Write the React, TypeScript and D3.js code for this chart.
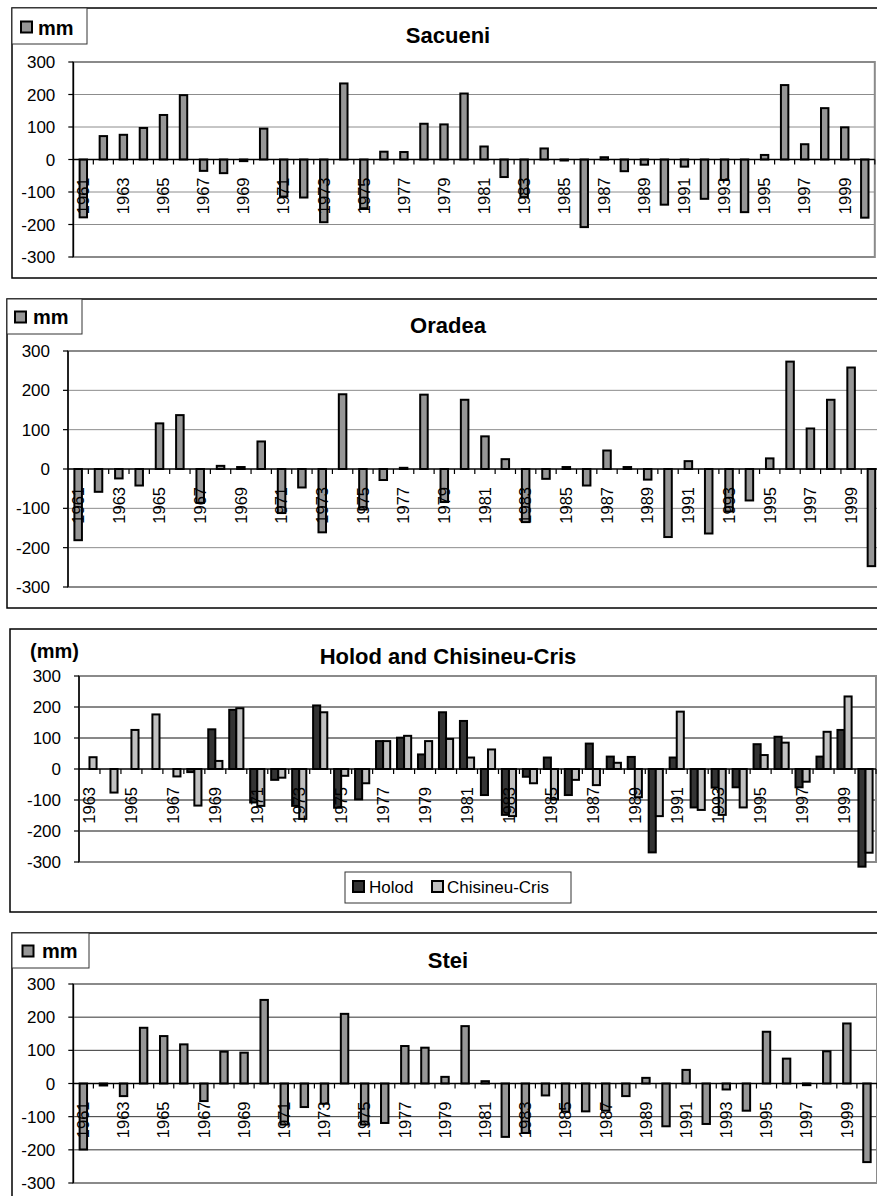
import React from "react";
import * as d3 from "d3";

const years = [1961,1962,1963,1964,1965,1966,1967,1968,1969,1970,1971,1972,1973,1974,1975,1976,1977,1978,1979,1980,1981,1982,1983,1984,1985,1986,1987,1988,1989,1990,1991,1992,1993,1994,1995,1996,1997,1998,1999,2000];
const holodYears = [1963,1964,1965,1966,1967,1968,1969,1970,1971,1972,1973,1974,1975,1976,1977,1978,1979,1980,1981,1982,1983,1984,1985,1986,1987,1988,1989,1990,1991,1992,1993,1994,1995,1996,1997,1998,1999,2000];

const sacueni = [-178,72,76,97,137,198,-35,-42,-5,95,-114,-117,-193,234,-150,24,23,110,108,203,40,-54,-116,34,-3,-208,7,-36,-16,-139,-22,-121,-63,-162,14,229,47,158,99,-179];
const oradea = [-181,-58,-24,-42,116,137,-86,8,5,70,-112,-47,-161,190,-103,-28,3,189,-84,176,83,25,-135,-25,5,-42,47,5,-27,-173,20,-164,-108,-80,27,273,103,176,258,-247];
const holod: (number | null)[] = [null,null,null,null,null,-10,128,191,-108,-35,-119,205,-125,-98,90,101,47,183,155,-84,-148,-25,37,-84,82,40,39,-269,37,-124,-60,-59,80,104,-59,40,126,-315];
const chisineu = [38,-76,126,176,-24,-118,26,196,-119,-28,-161,183,-22,-46,90,107,90,97,37,63,-152,-46,-98,-35,-52,20,-91,-152,185,-132,-148,-124,45,85,-41,120,234,-270];
const stei = [-199,-6,-38,168,143,118,-53,96,93,252,-124,-71,-61,210,-124,-119,113,108,20,173,7,-161,-149,-36,-85,-84,-82,-38,17,-129,41,-122,-18,-82,156,75,-5,97,181,-237];

const yTicks = [300,200,100,0,-100,-200,-300];
const yDomain = [-300, 300];

const FONT = "'Liberation Sans', Arial, Helvetica, sans-serif";
const GRAY = "#969696";
const DARK = "#333333";
const LIGHT = "#c0c0c0";

type Series = { name: string; values: (number | null)[]; fill: string };
type Cfg = {
  title: string;
  titleY: number;
  frame: { x: number; y: number; w: number; h: number };
  plot: { left: number; right: number; top: number; bottom: number };
  cats: number[];
  series: Series[];
  grid: string;
  corner: "legend" | "unit";
  cornerBox?: { x: number; y: number; w: number; h: number; mx: number; my: number; tx: number; ty: number };
  unitPos?: { x: number; y: number };
  bottomLegend?: { x: number; y: number; w: number; h: number };
};

const Panel = ({ cfg }: { cfg: Cfg }) => {
  const { plot, cats, series } = cfg;
  const x = d3.scaleBand<number>().domain(cats).range([plot.left, plot.right]).paddingInner(0).paddingOuter(0);
  const y = d3.scaleLinear().domain(yDomain).range([plot.bottom, plot.top]);
  const step = x.step();
  const y0 = y(0);
  const inner = d3.scaleBand<string>().domain(series.map(s => s.name)).range([0, step]).paddingInner(0).paddingOuter(0.48);
  const single = series.length === 1;
  const barW = single ? step * 0.37 : inner.bandwidth();
  const labelCats = cats.filter((_, i) => i % 2 === 0);
  const midX = 448;
  return (
    <g>
      <rect x={cfg.frame.x} y={cfg.frame.y} width={cfg.frame.w} height={cfg.frame.h} fill="white" stroke="#000" strokeWidth={1.5} />
      {yTicks.filter(t => t !== 0 && t !== 300 && t !== -300).map(t => (
        <line key={t} x1={plot.left} x2={plot.right} y1={y(t)} y2={y(t)} stroke={cfg.grid} strokeWidth={1} />
      ))}
      <rect x={plot.left} y={plot.top} width={plot.right - plot.left} height={plot.bottom - plot.top} fill="none" stroke="#8a8a8a" strokeWidth={2} />
      {series.map((s, si) => s.values.map((v, i) => {
        if (v === null || v === undefined) return null;
        const c = cats[i];
        const bx = single ? (x(c) as number) + (step - barW) / 2 : (x(c) as number) + (inner(s.name) as number);
        const top = Math.min(y(v), y0);
        const h = Math.max(Math.abs(y(v) - y0), 1);
        return <rect key={si + "-" + c} x={bx} y={top} width={barW} height={h} fill={s.fill} stroke="#000" strokeWidth={2} />;
      }))}
      <line x1={plot.left} x2={plot.left} y1={plot.top} y2={plot.bottom} stroke="#000" strokeWidth={1.5} />
      {yTicks.map(t => (
        <g key={t}>
          <line x1={plot.left - 5} x2={plot.left} y1={y(t)} y2={y(t)} stroke="#000" strokeWidth={1.2} />
          <text x={plot.left - 18} y={y(t)} dy="0.36em" textAnchor="end" fontFamily={FONT} fontSize={17} fill="#000">{t}</text>
        </g>
      ))}
      <line x1={plot.left} x2={plot.right} y1={y0} y2={y0} stroke="#000" strokeWidth={1.5} />
      {cats.map(c => (
        <line key={c} x1={(x(c) as number) + step} x2={(x(c) as number) + step} y1={y0} y2={y0 + 5} stroke="#000" strokeWidth={1.2} />
      ))}
      {labelCats.map(c => {
        const cx = (x(c) as number) + step / 2;
        const ly = y0 + 18;
        return (
          <text key={c} transform={`translate(${cx},${ly}) rotate(-90)`} dy="0.35em" textAnchor="end" fontFamily={FONT} fontSize={16.5} fill="#000">{c}</text>
        );
      })}
      <text x={midX} y={cfg.titleY} textAnchor="middle" fontFamily={FONT} fontWeight="bold" fontSize={22} fill="#000">{cfg.title}</text>
      {cfg.corner === "legend" && cfg.cornerBox && (
        <g>
          <rect x={cfg.cornerBox.x} y={cfg.cornerBox.y} width={cfg.cornerBox.w} height={cfg.cornerBox.h} fill="white" stroke="#333" strokeWidth={1} />
          <rect x={cfg.cornerBox.mx} y={cfg.cornerBox.my} width={11} height={11} fill={GRAY} stroke="#000" strokeWidth={2} />
          <text x={cfg.cornerBox.tx} y={cfg.cornerBox.ty} fontFamily={FONT} fontWeight="bold" fontSize={20} fill="#000">mm</text>
        </g>
      )}
      {cfg.corner === "unit" && cfg.unitPos && (
        <text x={cfg.unitPos.x} y={cfg.unitPos.y} fontFamily={FONT} fontWeight="bold" fontSize={20} fill="#000">(mm)</text>
      )}
      {cfg.bottomLegend && (
        <g>
          <rect x={cfg.bottomLegend.x} y={cfg.bottomLegend.y} width={cfg.bottomLegend.w} height={cfg.bottomLegend.h} fill="white" stroke="#333" strokeWidth={1} />
          <rect x={cfg.bottomLegend.x + 8} y={cfg.bottomLegend.y + 9} width={11} height={11} fill={DARK} stroke="#000" strokeWidth={2} />
          <text x={cfg.bottomLegend.x + 24} y={cfg.bottomLegend.y + 21} fontFamily={FONT} fontSize={17} fill="#000">Holod</text>
          <rect x={cfg.bottomLegend.x + 87} y={cfg.bottomLegend.y + 9} width={11} height={11} fill={LIGHT} stroke="#000" strokeWidth={2} />
          <text x={cfg.bottomLegend.x + 102} y={cfg.bottomLegend.y + 21} fontFamily={FONT} fontSize={17} fill="#000">Chisineu-Cris</text>
        </g>
      )}
    </g>
  );
};

const panels: Cfg[] = [
  {
    title: "Sacueni", titleY: 43,
    frame: { x: 12, y: 8, w: 880, h: 270 },
    plot: { left: 73.3, right: 874.8, top: 62, bottom: 257 },
    cats: years, series: [{ name: "mm", values: sacueni, fill: GRAY }],
    grid: "#8c8c8c", corner: "legend",
    cornerBox: { x: 12, y: 8, w: 75, h: 36, mx: 21, my: 21.5, tx: 38, ty: 35 },
  },
  {
    title: "Oradea", titleY: 333,
    frame: { x: 7, y: 299, w: 890, h: 309 },
    plot: { left: 68, right: 881.6, top: 351, bottom: 587 },
    cats: years, series: [{ name: "mm", values: oradea, fill: GRAY }],
    grid: "#8c8c8c", corner: "legend",
    cornerBox: { x: 7, y: 299, w: 75, h: 35, mx: 15, my: 311.5, tx: 33, ty: 324 },
  },
  {
    title: "Holod and Chisineu-Cris", titleY: 664,
    frame: { x: 10, y: 629, w: 890, h: 283 },
    plot: { left: 79, right: 876, top: 676, bottom: 862 },
    cats: holodYears,
    series: [
      { name: "Holod", values: holod, fill: DARK },
      { name: "Chisineu-Cris", values: chisineu, fill: LIGHT },
    ],
    grid: "#111", corner: "unit", unitPos: { x: 30, y: 658 },
    bottomLegend: { x: 345, y: 872, w: 226, h: 31 },
  },
  {
    title: "Stei", titleY: 968,
    frame: { x: 12, y: 933, w: 890, h: 280 },
    plot: { left: 73.3, right: 877, top: 984, bottom: 1183 },
    cats: years, series: [{ name: "mm", values: stei, fill: GRAY }],
    grid: "#333", corner: "legend",
    cornerBox: { x: 12, y: 933, w: 77, h: 35, mx: 22.5, my: 945.5, tx: 42, ty: 958 },
  },
];

export default function App() {
  return (
    <svg width={877} height={1196} style={{ position: "absolute", left: 0, top: 0, background: "white" }}>
      <rect x={0} y={0} width={877} height={1196} fill="white" />
      {panels.map(p => <Panel key={p.title} cfg={p} />)}
    </svg>
  );
}
